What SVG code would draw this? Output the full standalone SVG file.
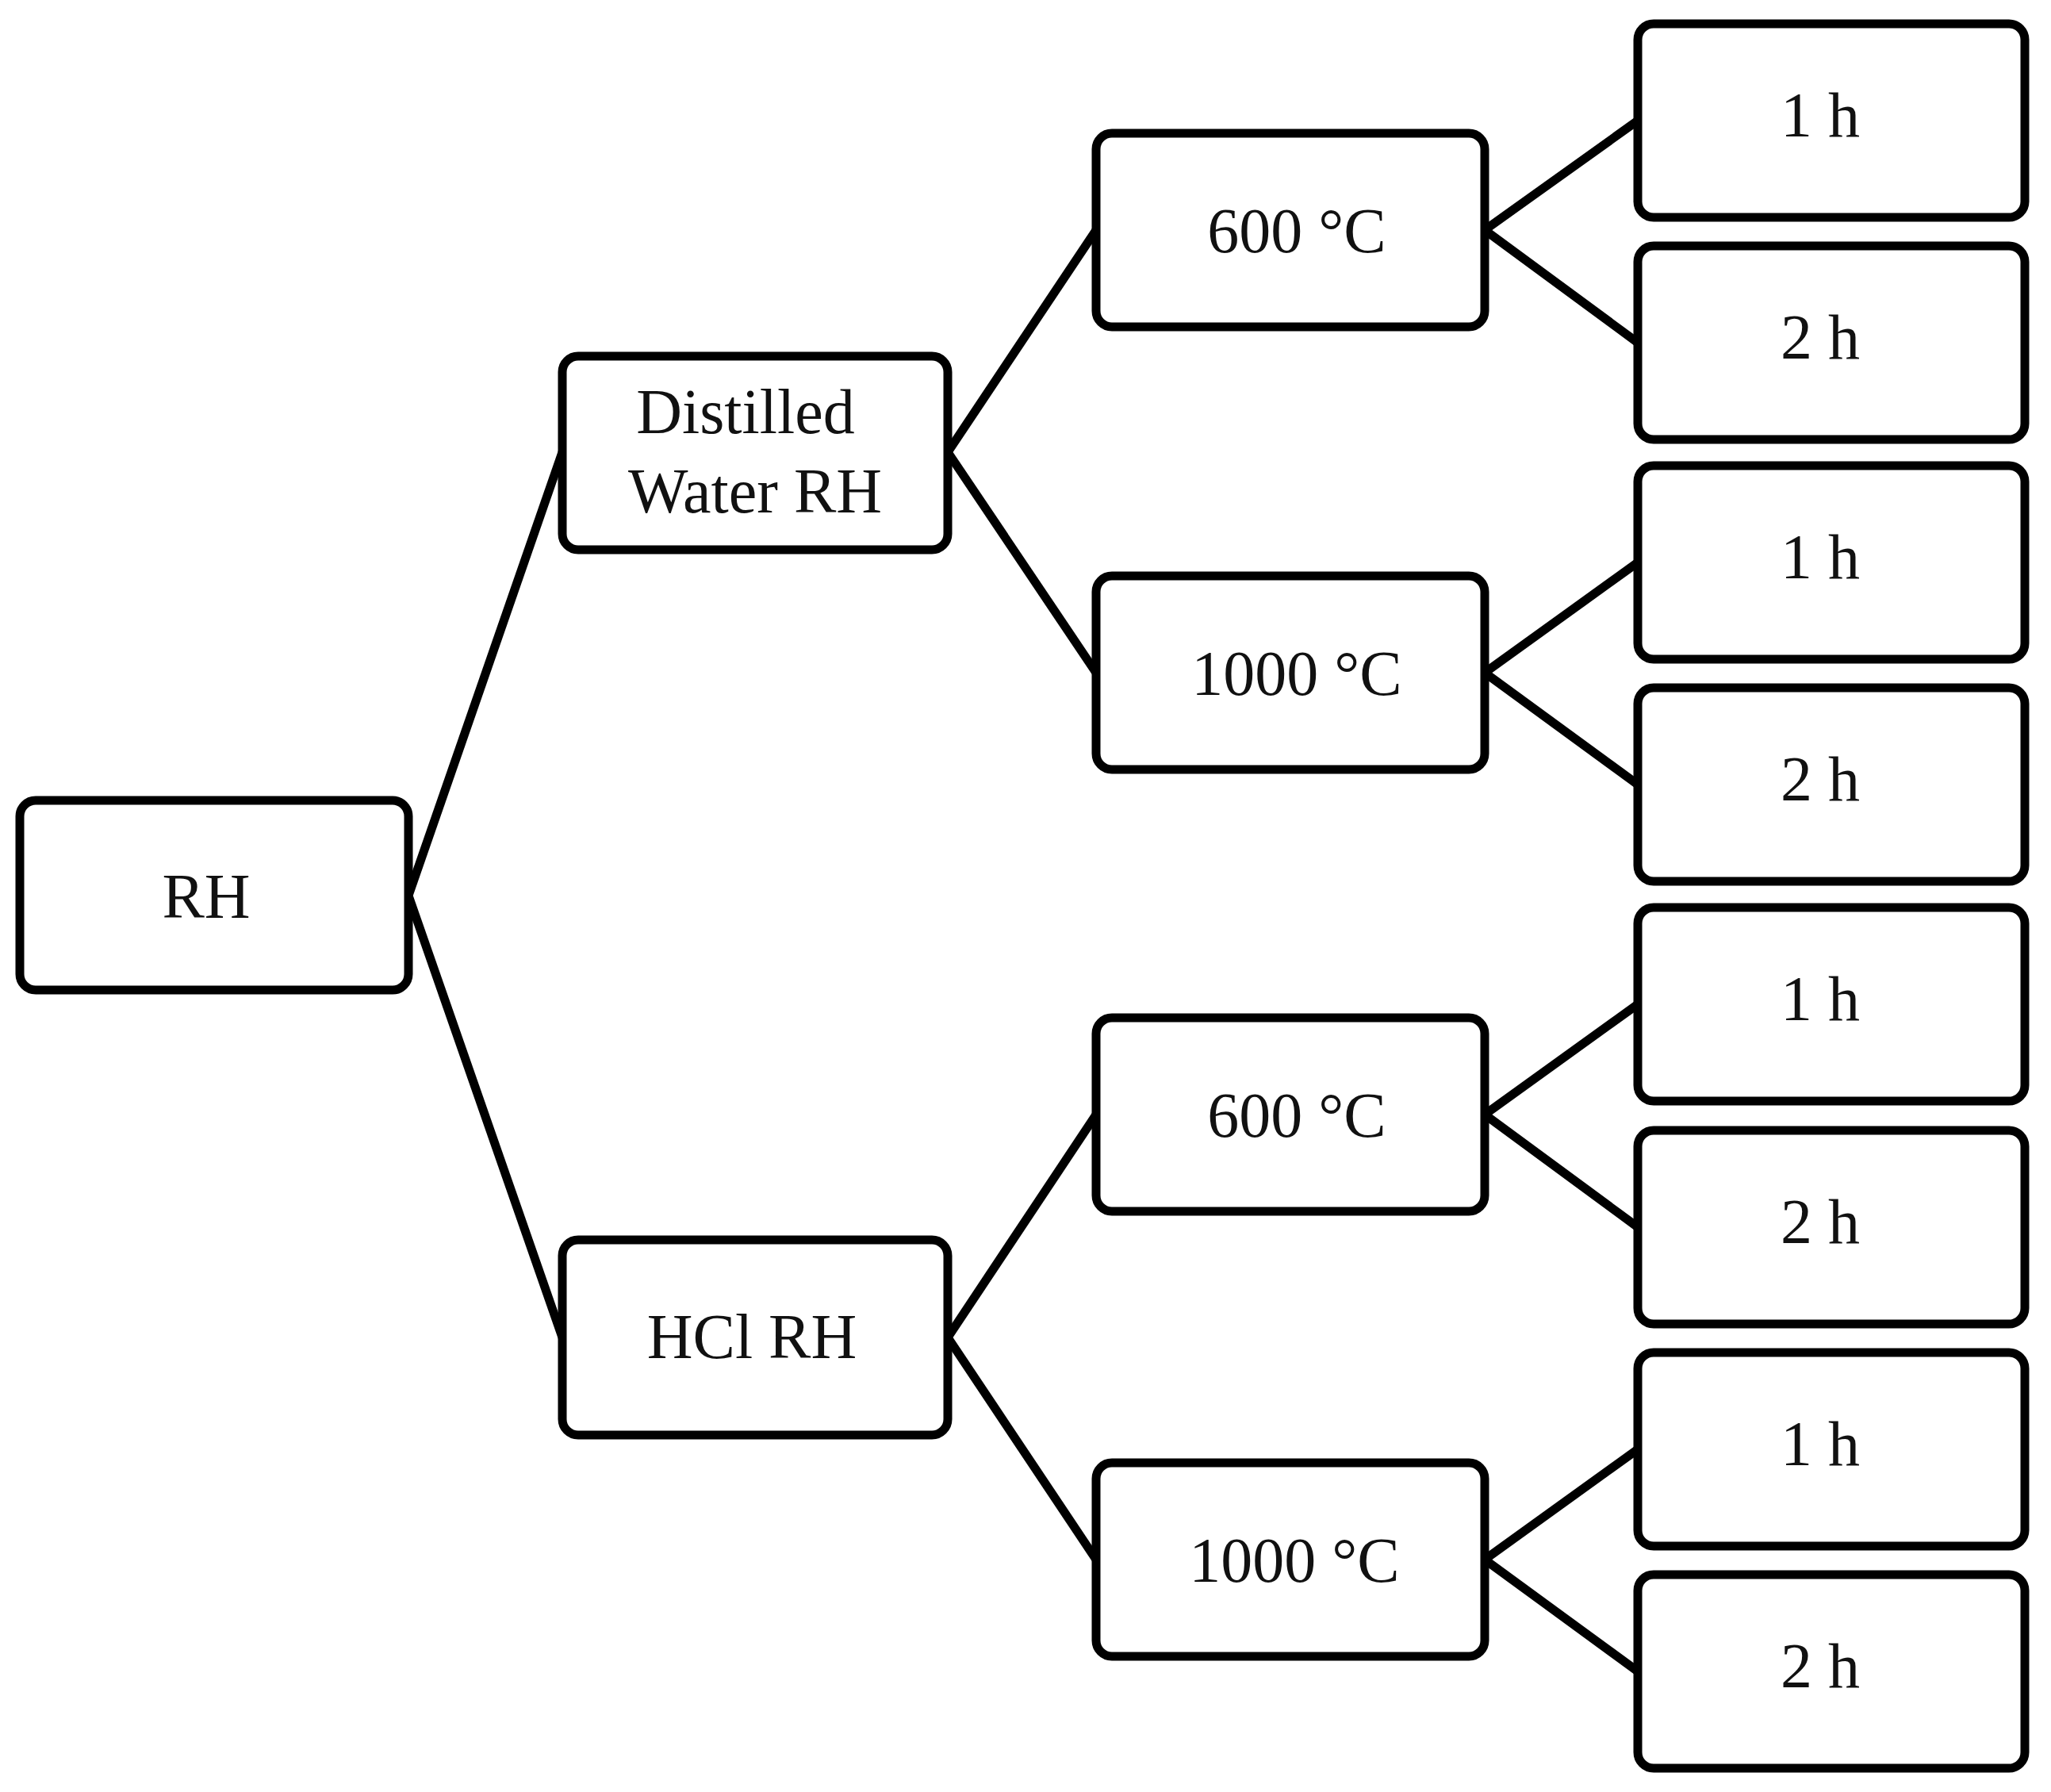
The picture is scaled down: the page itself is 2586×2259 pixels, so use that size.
<svg xmlns="http://www.w3.org/2000/svg" width="2586" height="2259" viewBox="0 0 2586 2259">
<style>
.b{fill:#fff;stroke:#000;stroke-width:11}
.t{font-family:"Liberation Serif","DejaVu Serif",serif;font-size:80px;text-anchor:middle;fill:#111}
.c line{stroke:#000;stroke-width:11}
</style>
<rect width="2586" height="2259" fill="#fff"/>
<g class="c">
<line x1="515" y1="1129" x2="709" y2="570"/><line x1="515" y1="1129" x2="709" y2="1686"/>
<line x1="1195" y1="570" x2="1382" y2="290"/><line x1="1195" y1="570" x2="1382" y2="848"/>
<line x1="1195" y1="1686" x2="1382" y2="1405"/><line x1="1195" y1="1686" x2="1382" y2="1966"/>
<line x1="1872" y1="290" x2="2065" y2="152"/><line x1="1872" y1="290" x2="2065" y2="432"/>
<line x1="1872" y1="848" x2="2065" y2="709"/><line x1="1872" y1="848" x2="2065" y2="989"/>
<line x1="1872" y1="1405" x2="2065" y2="1266"/><line x1="1872" y1="1405" x2="2065" y2="1547"/>
<line x1="1872" y1="1966" x2="2065" y2="1827"/><line x1="1872" y1="1966" x2="2065" y2="2107"/>
</g>
<g id="rh"><rect class="b" x="25" y="1009" width="490" height="239" rx="20"/><text class="t" x="260" y="1157">RH</text></g>
<g id="dw"><rect class="b" x="709" y="449" width="486" height="244" rx="20"/><text class="t" x="940" y="546">Distilled</text><text class="t" x="952" y="646">Water RH</text></g>
<g id="hcl"><rect class="b" x="709" y="1563" width="486" height="246" rx="20"/><text class="t" x="948" y="1712">HCl RH</text></g>
<g id="t1"><rect class="b" x="1382" y="168" width="490" height="244" rx="20"/><text class="t" x="1635" y="318">600 °C</text></g>
<g id="t2"><rect class="b" x="1382" y="726" width="490" height="244" rx="20"/><text class="t" x="1635" y="876">1000 °C</text></g>
<g id="t3"><rect class="b" x="1382" y="1283" width="490" height="244" rx="20"/><text class="t" x="1635" y="1433">600 °C</text></g>
<g id="t4"><rect class="b" x="1382" y="1844" width="490" height="244" rx="20"/><text class="t" x="1632" y="1994">1000 °C</text></g>
<g id="l1"><rect class="b" x="2065" y="30" width="488" height="244" rx="20"/><text class="t" x="2295" y="172">1 h</text></g>
<g id="l2"><rect class="b" x="2065" y="310" width="488" height="244" rx="20"/><text class="t" x="2295" y="452">2 h</text></g>
<g id="l3"><rect class="b" x="2065" y="587" width="488" height="244" rx="20"/><text class="t" x="2295" y="729">1 h</text></g>
<g id="l4"><rect class="b" x="2065" y="867" width="488" height="244" rx="20"/><text class="t" x="2295" y="1009">2 h</text></g>
<g id="l5"><rect class="b" x="2065" y="1144" width="488" height="244" rx="20"/><text class="t" x="2295" y="1286">1 h</text></g>
<g id="l6"><rect class="b" x="2065" y="1425" width="488" height="244" rx="20"/><text class="t" x="2295" y="1567">2 h</text></g>
<g id="l7"><rect class="b" x="2065" y="1705" width="488" height="244" rx="20"/><text class="t" x="2295" y="1847">1 h</text></g>
<g id="l8"><rect class="b" x="2065" y="1985" width="488" height="244" rx="20"/><text class="t" x="2295" y="2127">2 h</text></g>
</svg>
